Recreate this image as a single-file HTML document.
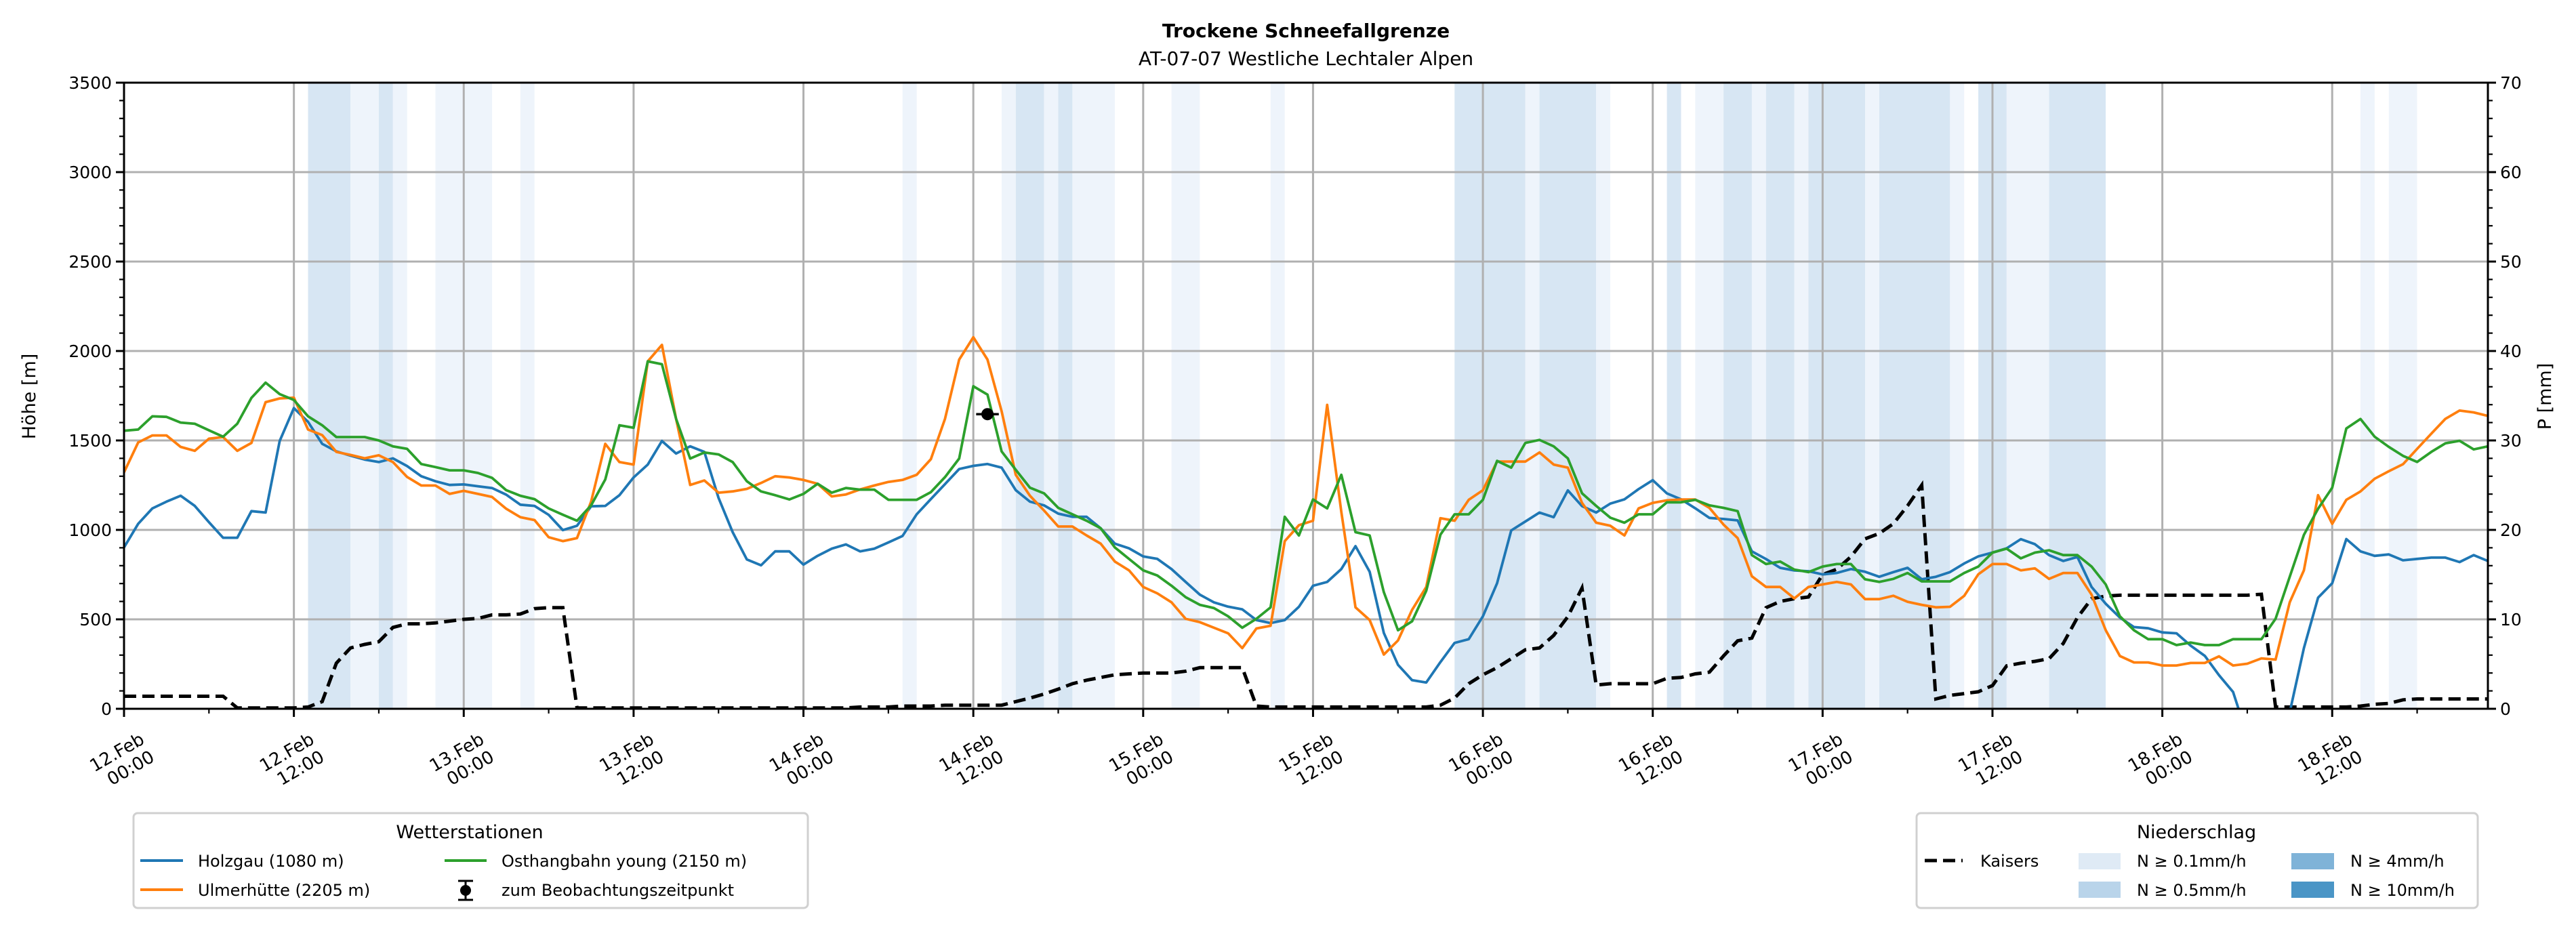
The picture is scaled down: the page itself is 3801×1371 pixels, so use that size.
<!DOCTYPE html>
<html><head><meta charset="utf-8"><style>
html,body{margin:0;padding:0;background:#fff;}
svg{display:block;font-family:"DejaVu Sans","Liberation Sans",sans-serif;}
</style></head><body>
<svg id="chart" width="3801" height="1371" viewBox="0 0 3801 1371" xmlns="http://www.w3.org/2000/svg">
<defs><clipPath id="plotclip"><rect x="183" y="122" width="3488" height="924"/></clipPath></defs>
<rect x="0" y="0" width="3801" height="1371" fill="#fff"/>
<text x="1927" y="55" text-anchor="middle" font-size="28" font-weight="bold">Trockene Schneefallgrenze</text>
<text x="1927" y="96" text-anchor="middle" font-size="28">AT-07-07 Westliche Lechtaler Alpen</text>
<g id="bands" clip-path="url(#plotclip)"></g>
<g id="grid"></g>
<g id="series" clip-path="url(#plotclip)"></g>
<g id="axes"></g>
<text transform="translate(52,585) rotate(-90)" text-anchor="middle" font-size="27">Höhe [m]</text>
<text transform="translate(3764,585) rotate(-90)" text-anchor="middle" font-size="27">P [mm]</text>

<g>
<rect x="197" y="1200" width="995" height="140" rx="6" fill="#fff" stroke="#d0d0d0" stroke-width="3"/>
<text x="693" y="1237" text-anchor="middle" font-size="27">Wetterstationen</text>
<g><line x1="207" y1="1270" x2="270" y2="1270" stroke="#1f77b4" stroke-width="4"/><text x="292" y="1279" font-size="24">Holzgau (1080 m)</text></g>
<g><line x1="207" y1="1313" x2="270" y2="1313" stroke="#ff7f0e" stroke-width="4"/><text x="292" y="1322" font-size="24">Ulmerhütte (2205 m)</text></g>
<g><line x1="656" y1="1270" x2="718" y2="1270" stroke="#2ca02c" stroke-width="4"/><text x="740" y="1279" font-size="24">Osthangbahn young (2150 m)</text></g>
<g><line x1="687" y1="1300" x2="687" y2="1328" stroke="#000" stroke-width="3"/><line x1="676" y1="1300" x2="698" y2="1300" stroke="#000" stroke-width="3"/><line x1="676" y1="1328" x2="698" y2="1328" stroke="#000" stroke-width="3"/><circle cx="687" cy="1314" r="8" fill="#000"/><text x="740" y="1322" font-size="24">zum Beobachtungszeitpunkt</text></g>
</g>

<g>
<rect x="2828" y="1200" width="828" height="140" rx="6" fill="#fff" stroke="#d0d0d0" stroke-width="3"/>
<text x="3241" y="1237" text-anchor="middle" font-size="27">Niederschlag</text>
<g><line x1="2840" y1="1270" x2="2896" y2="1270" stroke="#000" stroke-width="5" stroke-dasharray="18,9"/><text x="2922" y="1279" font-size="24">Kaisers</text></g>
<g><rect x="3067" y="1259" width="62" height="24" fill="#dfeaf5"/><text x="3153" y="1279" font-size="24">N ≥ 0.1mm/h</text></g>
<g><rect x="3067" y="1301" width="62" height="24" fill="#b9d4ea"/><text x="3153" y="1322" font-size="24">N ≥ 0.5mm/h</text></g>
<g><rect x="3381" y="1259" width="63" height="24" fill="#7fb3d8"/><text x="3468" y="1279" font-size="24">N ≥ 4mm/h</text></g>
<g><rect x="3381" y="1301" width="63" height="24" fill="#4a95c6"/><text x="3468" y="1322" font-size="24">N ≥ 10mm/h</text></g>
</g>
</svg>
<script>
// ---- data (hourly, hour 0 = 12.Feb 00:00) ----
const holzgau = [902,1034,1120,1158,1191,1134,1043,956,956,1105,
1097,1497,1681,1604,1481,1439,1415,1393,1379,1400,
1357,1300,1272,1251,1254,1244,1234,1197,1141,1134,
1084,999,1023,1132,1134,1194,1293,1365,1497,1427,
1467,1436,1179,987,835,802,880,880,806,855,
895,919,880,895,930,966,1087,1172,1256,1340,
1358,1368,1348,1222,1158,1137,1091,1073,1073,1009,
923,897,852,838,781,709,638,595,571,556,
496,479,496,570,688,709,781,909,766,424,
246,160,147,261,368,389,517,702,997,1047,
1097,1071,1221,1133,1097,1147,1171,1228,1278,1204,
1171,1121,1067,1061,1053,880,837,788,773,769,
751,759,781,766,738,764,788,724,738,764,
812,852,873,897,948,920,859,826,849,681,
587,510,457,450,427,422,353,296,188,94,
-150,-300,-150,-20,339,621,702,949,880,855,
863,830,838,845,845,820,859,826];
const ulmerhuette = [1322,1489,1528,1528,1464,1442,1510,1519,1442,1486,
1714,1735,1739,1561,1530,1436,1419,1400,1417,1379,
1296,1248,1248,1201,1218,1201,1184,1118,1071,1055,
959,937,954,1158,1481,1379,1365,1942,2034,1621,
1251,1276,1208,1215,1229,1262,1300,1293,1279,1258,
1187,1198,1226,1248,1268,1279,1308,1395,1621,1952,
2077,1952,1664,1308,1191,1108,1019,1019,969,923,
823,774,681,645,595,503,484,453,422,339,
449,464,937,1026,1051,1699,1100,567,496,303,
382,553,681,1065,1051,1168,1222,1382,1382,1382,
1433,1365,1348,1151,1040,1023,969,1120,1151,1165,
1170,1170,1123,1030,954,741,681,681,617,681,
695,709,695,613,613,632,598,581,567,570,
631,752,809,809,774,785,726,759,759,638,
439,295,259,259,242,242,256,256,293,242,
252,282,275,595,774,1194,1034,1168,1215,1286,
1328,1367,1453,1538,1621,1667,1657,1637];
const osthangbahn = [1554,1561,1635,1632,1600,1593,1557,1521,1593,1738,
1823,1759,1726,1635,1585,1519,1519,1519,1500,1467,
1453,1368,1351,1333,1333,1318,1291,1222,1191,1172,
1120,1085,1051,1137,1282,1585,1571,1942,1926,1621,
1399,1433,1422,1379,1272,1215,1194,1170,1201,1258,
1208,1234,1225,1225,1168,1168,1168,1211,1295,1399,
1803,1756,1439,1336,1236,1204,1123,1087,1051,1009,
902,838,774,745,688,624,581,563,517,453,
503,567,1073,969,1170,1120,1308,987,969,652,
439,489,660,973,1087,1087,1168,1386,1348,1486,
1503,1467,1400,1205,1134,1068,1040,1087,1087,1154,
1154,1168,1137,1123,1105,859,809,823,778,764,
795,809,809,724,709,726,759,712,712,712,
759,795,873,895,841,873,886,859,859,795,
695,517,439,389,389,356,370,356,356,389,
389,389,503,738,972,1118,1236,1567,1620,1521,
1464,1414,1380,1436,1484,1498,1450,1467];
const kaisersMm = [1.4,1.4,1.4,1.4,1.4,1.4,1.4,1.4,0.1,0.1,
0.1,0.1,0.1,0.2,0.8,5.1,6.8,7.2,7.5,9.1,
9.5,9.5,9.6,9.8,10.0,10.1,10.5,10.5,10.6,11.2,
11.3,11.3,0.1,0.1,0.1,0.1,0.1,0.1,0.1,0.1,
0.1,0.1,0.1,0.1,0.1,0.1,0.1,0.1,0.1,0.1,
0.1,0.1,0.2,0.2,0.2,0.3,0.3,0.3,0.4,0.4,
0.4,0.4,0.4,0.8,1.2,1.65,2.2,2.8,3.2,3.5,
3.8,3.9,4.0,4.0,4.0,4.2,4.6,4.6,4.6,4.6,
0.3,0.2,0.2,0.2,0.2,0.2,0.2,0.2,0.2,0.2,
0.2,0.2,0.2,0.4,1.2,2.8,3.8,4.6,5.6,6.6,
6.8,8.2,10.3,13.5,2.65,2.8,2.8,2.8,2.8,3.4,
3.5,3.9,4.1,5.9,7.6,7.9,11.3,12.0,12.3,12.5,
15.0,15.6,17.0,19.0,19.6,20.7,22.7,25.0,1.1,1.5,
1.7,1.9,2.6,4.8,5.1,5.3,5.6,7.3,10.2,12.3,
12.6,12.7,12.7,12.7,12.7,12.7,12.7,12.7,12.7,12.7,
12.7,12.8,0.2,0.2,0.2,0.2,0.2,0.2,0.3,0.5,
0.6,1.0,1.1,1.1,1.1,1.1,1.1,1.1];
const bandStart = [13,16,18,19,22,28,55,62,63,65,66,67,74,81,94,99,100,104,109,111,113,115,116,118,119,123,124,129,131,133,136,158,160];
const bandEnd   = [16,18,19,20,26,29,56,63,65,66,67,70,76,82,99,100,104,105,110,113,115,116,118,119,123,124,129,130,133,136,140,159,162];
const bandLevel = [2,1,2,1,1,1,1,1,2,1,2,1,1,1,2,1,2,1,2,1,2,1,2,1,2,1,2,1,2,1,2,1,1];
const obsHour = [61];
const obsValue = [1647];
const obsErr = [0.8];
const yTicks = [0,500,1000,1500,2000,2500,3000,3500];
const y2Ticks = [0,10,20,30,40,50,60,70];
const xTickHours = [0,12,24,36,48,60,72,84,96,108,120,132,144,156];
const xTickLabels1 = ["12.Feb","12.Feb","13.Feb","13.Feb","14.Feb","14.Feb","15.Feb","15.Feb","16.Feb","16.Feb","17.Feb","17.Feb","18.Feb","18.Feb"];
const xTickLabels2 = ["00:00","12:00","00:00","12:00","00:00","12:00","00:00","12:00","00:00","12:00","00:00","12:00","00:00","12:00"];

// ---- scales ----
const X0=183,X1=3671,Y0=122,Y1=1046,HMAX=167,VMAX=3500,PMAX=70;
const xs = h => X0 + h*(X1-X0)/HMAX;
const ys = v => Y1 - v*(Y1-Y0)/VMAX;
const yp = p => Y1 - p*(Y1-Y0)/PMAX;
const NS="http://www.w3.org/2000/svg";
function mk(tag, attrs, parent){const e=document.createElementNS(NS,tag);for(const k in attrs)e.setAttribute(k,attrs[k]);parent.appendChild(e);return e;}

// bands
const gB=document.getElementById('bands');
for(let i=0;i<bandStart.length;i++){
  const r=mk('rect',{x:xs(bandStart[i]),y:Y0,width:xs(bandEnd[i])-xs(bandStart[i]),height:Y1-Y0,fill:bandLevel[i]===2?'#d7e6f3':'#eef4fb'},gB);
  
  
}
// grid
const gG=document.getElementById('grid');
yTicks.forEach(v=>{const l=mk('line',{x1:X0,x2:X1,y1:ys(v),y2:ys(v),stroke:'#b0b0b0','stroke-width':3},gG);
  
  });
xTickHours.forEach(h=>{const l=mk('line',{x1:xs(h),x2:xs(h),y1:Y0,y2:Y1,stroke:'#b0b0b0','stroke-width':3},gG);
  
  });

// series
const gS=document.getElementById('series');
function line(arr,color,name){
  const pts=arr.map((v,i)=>xs(i).toFixed(1)+','+ys(v).toFixed(1)).join(' ');
  const p=mk('polyline',{points:pts,fill:'none',stroke:color,'stroke-width':3.8,'stroke-linejoin':'round'},gS);
  
  
}
const kp=kaisersMm.map((v,i)=>xs(i).toFixed(1)+','+yp(v).toFixed(1)).join(' ');
const kl=mk('polyline',{points:kp,fill:'none',stroke:'#000','stroke-width':5,'stroke-dasharray':'18,9'},gS);


line(holzgau,'#1f77b4','holzgau-line');
line(ulmerhuette,'#ff7f0e','ulmerhuette-line');
line(osthangbahn,'#2ca02c','osthangbahn-line');
for(let i=0;i<obsHour.length;i++){
  const g=mk('g',{},gS);
  
  
  mk('line',{x1:xs(obsHour[i]-obsErr[i]),x2:xs(obsHour[i]+obsErr[i]),y1:ys(obsValue[i]),y2:ys(obsValue[i]),stroke:'#000','stroke-width':3.5},g);
  mk('circle',{cx:xs(obsHour[i]),cy:ys(obsValue[i]),r:9,fill:'#000'},g);
}

// axes
const gA=document.getElementById('axes');
const fr=mk('rect',{x:X0,y:Y0,width:X1-X0,height:Y1-Y0,fill:'none',stroke:'#000','stroke-width':3},gA);


for(let v=0;v<=VMAX;v+=100){const maj=v%500===0;mk('line',{x1:X0,x2:X0-(maj?12:7),y1:ys(v),y2:ys(v),stroke:'#000','stroke-width':maj?3:2.2},gA);}
yTicks.forEach(v=>{const t=mk('text',{x:X0-18,y:ys(v)+9,'text-anchor':'end','font-size':25},gA);t.textContent=v;
  
  });
for(let p=0;p<=PMAX;p+=2){const maj=p%10===0;mk('line',{x1:X1,x2:X1+(maj?12:7),y1:yp(p),y2:yp(p),stroke:'#000','stroke-width':maj?3:2.2},gA);}
y2Ticks.forEach(p=>{const t=mk('text',{x:X1+18,y:yp(p)+9,'text-anchor':'start','font-size':25},gA);t.textContent=p;
  
  });
for(let h=0;h<=HMAX;h+=6){const maj=h%12===0;mk('line',{x1:xs(h),x2:xs(h),y1:Y1,y2:Y1+(maj?12:7),stroke:'#000','stroke-width':maj?3:2.2},gA);}
xTickHours.forEach((h,i)=>{
  const t=mk('text',{transform:`translate(${xs(h)-6},1118) rotate(-30)`,'text-anchor':'middle','font-size':26},gA);
  
  
  const a=mk('tspan',{x:0,dy:0},t);a.textContent=xTickLabels1[i];
  const b=mk('tspan',{x:6,dy:30},t);b.textContent=xTickLabels2[i];
});
</script>
</body></html>
